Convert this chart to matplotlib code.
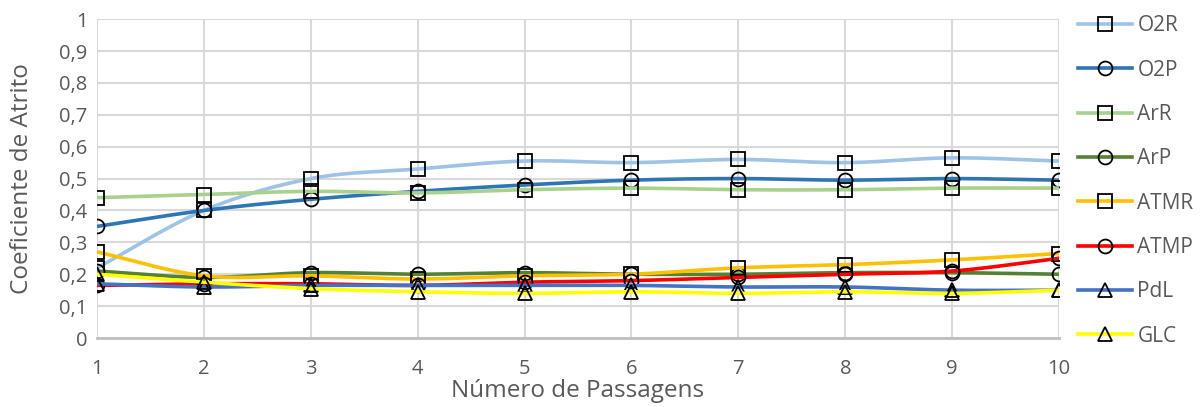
import numpy as np
import matplotlib
matplotlib.use('Agg')
import matplotlib.pyplot as plt

# friction coefficient per pass for each sample
passes = [1, 2, 3, 4, 5, 6, 7, 8, 9, 10]

o2r = [0.22, 0.40, 0.50, 0.53, 0.555, 0.55, 0.56, 0.55, 0.565, 0.555]
o2p = [0.35, 0.40, 0.435, 0.46, 0.48, 0.495, 0.50, 0.495, 0.50, 0.495]
arr = [0.44, 0.45, 0.46, 0.455, 0.465, 0.47, 0.465, 0.465, 0.47, 0.47]
arp = [0.21, 0.19, 0.205, 0.20, 0.205, 0.20, 0.20, 0.205, 0.205, 0.20]
atmr = [0.27, 0.195, 0.195, 0.185, 0.195, 0.20, 0.22, 0.23, 0.245, 0.265]
atmp = [0.165, 0.17, 0.17, 0.165, 0.175, 0.18, 0.19, 0.20, 0.21, 0.25]
pdl = [0.17, 0.16, 0.165, 0.165, 0.165, 0.165, 0.16, 0.16, 0.15, 0.15]
glc = [0.20, 0.175, 0.155, 0.145, 0.14, 0.145, 0.14, 0.145, 0.14, 0.15]

series = [
    ('O2R', o2r, '#9DC3E6', 's'),
    ('O2P', o2p, '#2E75B6', 'o'),
    ('ArR', arr, '#A9D18E', 's'),
    ('ArP', arp, '#548235', 'o'),
    ('ATMR', atmr, '#FFC000', 's'),
    ('ATMP', atmp, '#FF0000', 'o'),
    ('PdL', pdl, '#4472C4', '^'),
    ('GLC', glc, '#FFFF00', '^'),
]

y_ticks = np.arange(0, 11) / 10
y_labels = ['0'] + ['0,%d' % i for i in range(1, 10)] + ['1']


def smooth(x, y, n=20):
    # catmull-rom curve through the points, like a "smoothed line" chart
    x = np.asarray(x, float)
    y = np.asarray(y, float)
    px = np.concatenate([[2 * x[0] - x[1]], x, [2 * x[-1] - x[-2]]])
    py = np.concatenate([[2 * y[0] - y[1]], y, [2 * y[-1] - y[-2]]])
    t = np.linspace(0, 1, n)
    xs, ys = [], []
    for i in range(1, len(px) - 2):
        for p, out in ((px, xs), (py, ys)):
            p0, p1, p2, p3 = p[i - 1], p[i], p[i + 1], p[i + 2]
            out.extend(0.5 * (2 * p1 + (-p0 + p2) * t
                              + (2 * p0 - 5 * p1 + 4 * p2 - p3) * t ** 2
                              + (-p0 + 3 * p1 - 3 * p2 + p3) * t ** 3))
    return xs, ys


plt.rcParams['font.family'] = ['Open Sans', 'DejaVu Sans']
grey = '#595959'

fig = plt.figure(figsize=(12.04, 4.07), dpi=100)
ax = fig.add_axes([0.0806, 0.1695, 0.799, 0.7835])

for name, vals, color, marker in series:
    sx, sy = smooth(passes, vals)
    ax.plot(sx, sy, color=color, lw=2.6, solid_capstyle='round')
    ax.plot(passes, vals, linestyle='none', marker=marker, markersize=10,
            markerfacecolor='none', markeredgecolor='black', markeredgewidth=1.3)
    # legend proxy
    ax.plot([], [], color=color, lw=2.6, marker=marker, markersize=10,
            markerfacecolor='none', markeredgecolor='black',
            markeredgewidth=1.3, label=name)

ax.set_xlim(1, 10)
ax.set_ylim(0, 1)
ax.set_xticks(passes)
ax.set_yticks(y_ticks)
ax.set_yticklabels(y_labels)
ax.grid(True, color='#D9D9D9', lw=1.5)
ax.set_axisbelow(True)
for s in ['top', 'right', 'left']:
    ax.spines[s].set_visible(False)
ax.spines['bottom'].set_color('#BFBFBF')
ax.spines['bottom'].set_linewidth(2)
ax.tick_params(axis='both', which='both', length=0, labelsize=14.5,
               labelcolor=grey)
ax.tick_params(axis='x', pad=15)
ax.tick_params(axis='y', pad=7)

ax.set_xlabel('Número de Passagens', fontsize=17.5, color=grey)
ax.set_ylabel('Coeficiente de Atrito', fontsize=17.5, color=grey)
ax.xaxis.set_label_coords(0.5, -0.128)
ax.yaxis.set_label_coords(-0.066, 0.5)

leg = ax.legend(loc='upper left', bbox_to_anchor=(1.0198, 1.012), frameon=False,
                fontsize=15, labelspacing=1.12, handlelength=2.6,
                handletextpad=0.25, borderaxespad=0, borderpad=0)
for t in leg.get_texts():
    t.set_color(grey)

fig.savefig('out.png', dpi=100)
